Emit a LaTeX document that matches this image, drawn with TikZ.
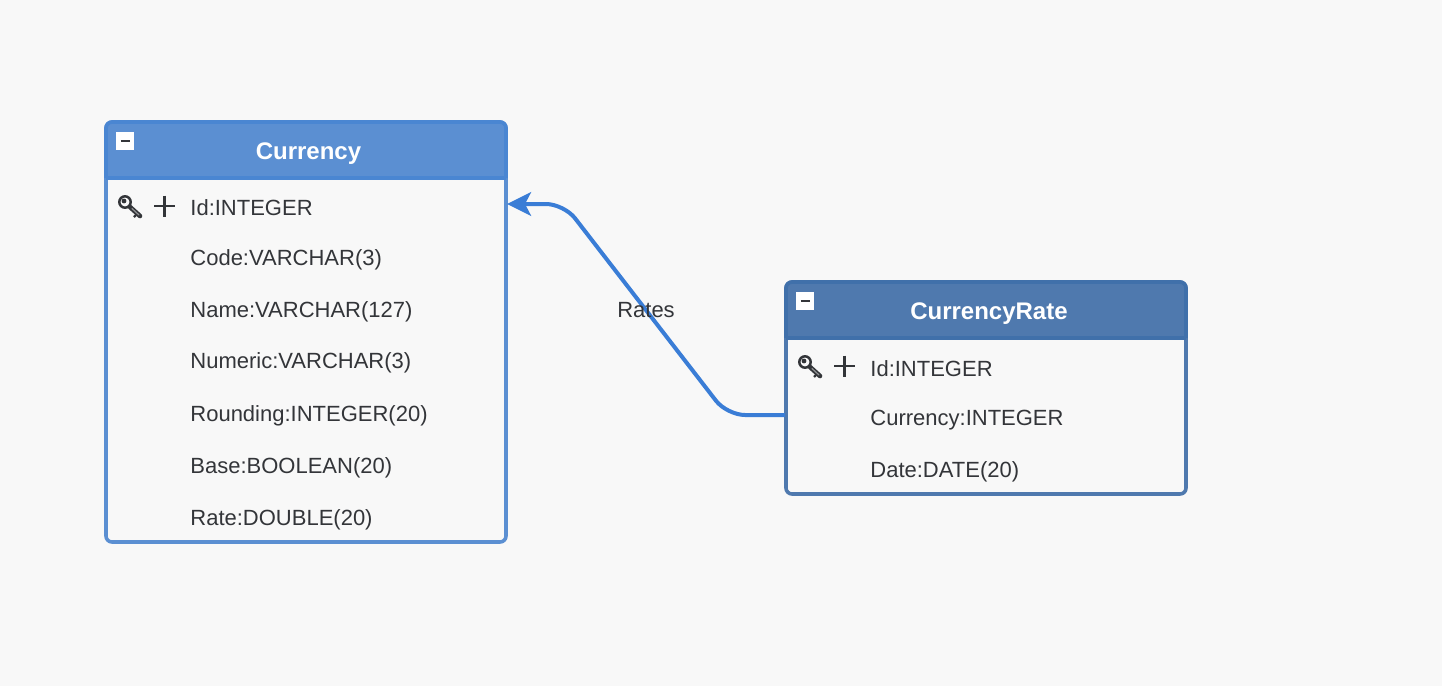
\documentclass[tikz,border=0pt]{standalone}
\usepackage{fontspec}
\setmainfont{Liberation Sans}
\usepackage{xcolor}
\usetikzlibrary{arrows.meta}
\definecolor{pagebg}{HTML}{F8F8F8}
\definecolor{ink}{HTML}{333539}
\definecolor{curfill}{HTML}{5B8FD2}
\definecolor{curline}{HTML}{4A86D2}
\definecolor{ratefill}{HTML}{4F79AE}
\definecolor{rateline}{HTML}{4070AA}
\definecolor{relblue}{HTML}{3A7DD6}
\tikzset{
  tablebox/.style={draw=#1, line width=1.8pt, rounded corners=3pt},
  headbox/.style={fill=#1, rounded corners=3pt},
  headline/.style={draw=#1, line width=1.8pt},
  title/.style={text=white, font=\bfseries\fontsize{12}{14}\selectfont},
  field/.style={text=ink, font=\fontsize{11}{13}\selectfont, anchor=base west, inner sep=0pt},
  minusbox/.style={fill=white, minimum size=9pt, inner sep=0pt},
  minusbar/.style={draw=ink, line width=1.4pt},
  relarr/.style={draw=relblue, line width=2pt, rounded corners=9pt,
    -{Stealth[length=12pt,width=11.8pt,inset=3pt]}},
  rellabel/.style={text=ink, font=\fontsize{11}{13}\selectfont},
  pics/keyicon/.style={code={
    \draw[ink, line width=1.25pt] (0,0) circle (2.85pt);
    \fill[ink] (-1,-1) circle (1.2pt);
    \draw[ink, line width=2.3pt, line cap=round] (5,5) -- (15,14);
    \draw[ink!55, line width=0.6pt, line cap=round] (7,6.5) -- (14,13);
    \draw[ink, line width=1.1pt] (11,13) -- (9,15);
  }},
  pics/plusicon/.style={code={
    \draw[ink, line width=1.1pt] (-10.5,0) -- (10.5,0) (0,-10.5) -- (0,10.5);
  }}
}
\begin{document}
\begin{tikzpicture}[x=0.5pt, y=-0.5pt]
  \fill[pagebg] (0,0) rectangle (1442,686);
  \useasboundingbox (0,0) rectangle (1442,686);

  % Currency
  \path[headbox=curfill] (106,178) |- (506,122) |- cycle;
  \draw[tablebox=curfill] (106,122) rectangle (506,542);
  \draw[curline, line width=1.8pt, rounded corners=3pt] (106,178) |- (506,122) -- (506,178);
  \draw[headline=curline] (106,178) -- (506,178);
  \node[title] (currency) at (308.5,154) {Currency};
  \node[minusbox] (curminus) at (125,141) {};
  \draw[minusbar] (curminus.center) ++(-4.5,0) -- ++(9,0);
  \pic at (125,202) {keyicon};
  \pic at (164.5,206) {plusicon};
  \foreach \y/\txt in {215.8/Id:INTEGER, 265.8/Code:VARCHAR(3), 317.8/Name:VARCHAR(127),
      368.8/Numeric:VARCHAR(3), 421.8/Rounding:INTEGER(20), 473.8/Base:BOOLEAN(20),
      525.8/Rate:DOUBLE(20)}
    \node[field] at (190,\y) {\txt};

  % CurrencyRate
  \path[headbox=ratefill] (786,338) |- (1186,282) |- cycle;
  \draw[tablebox=ratefill] (786,282) rectangle (1186,494);
  \draw[rateline, line width=1.8pt, rounded corners=3pt] (786,338) |- (1186,282) -- (1186,338);
  \draw[headline=rateline] (786,338) -- (1186,338);
  \node[title] (currencyrate) at (989,314) {CurrencyRate};
  \node[minusbox] (rateminus) at (805,301) {};
  \draw[minusbar] (rateminus.center) ++(-4.5,0) -- ++(9,0);
  \pic at (805,362) {keyicon};
  \pic at (844.5,366) {plusicon};
  \foreach \y/\txt in {376.8/Id:INTEGER, 425.8/Currency:INTEGER, 477.8/Date:DATE(20)}
    \node[field] at (870,\y) {\txt};

  % relation
  \coordinate (rateout) at (785,415);
  \coordinate (curin) at (507,204);
  \draw[relarr] (rateout) -- (727,415) -- (564,204) -- (curin);
  \node[rellabel] (rates) at (646,310) {Rates};
\end{tikzpicture}
\end{document}
